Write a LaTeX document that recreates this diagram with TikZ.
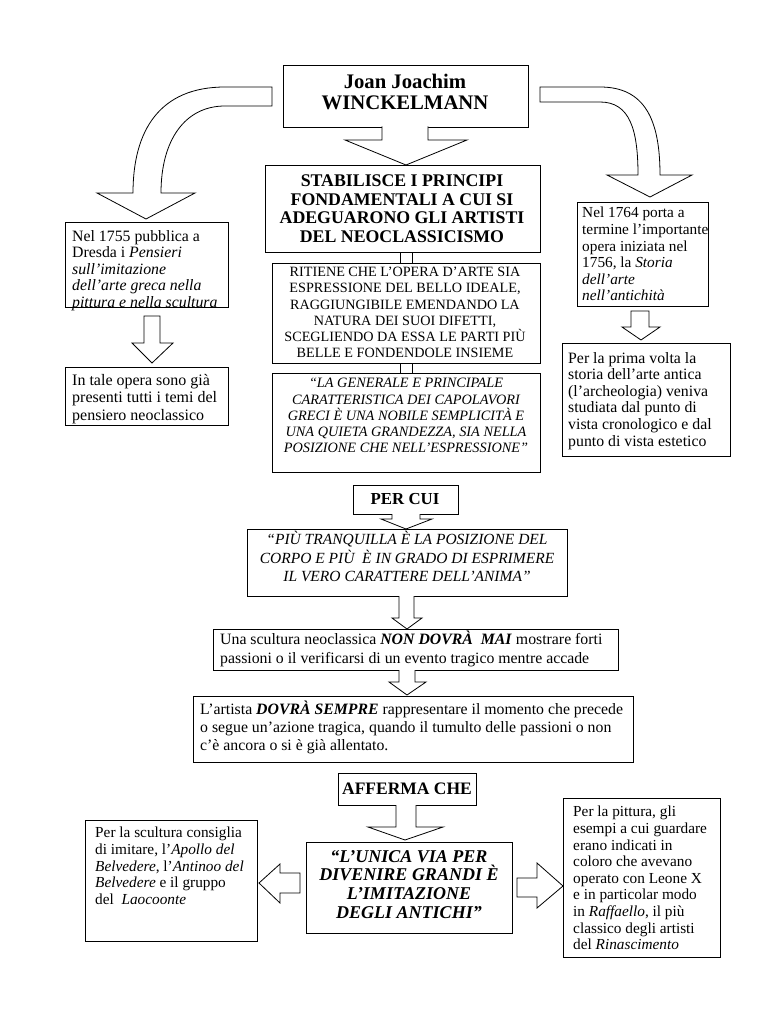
\documentclass[tikz,border=0pt]{standalone}
\usepackage{fontspec}
\setmainfont{Liberation Serif}
\begin{document}
\begin{tikzpicture}[x=1pt,y=-1pt,
  bx/.style={draw, line width=0.9pt, inner sep=0pt, anchor=north west},
  lt/.style={inner sep=0pt, anchor=north west, align=left},
  ct/.style={inner sep=0pt, anchor=north, align=center},
  blk/.style={draw, fill=white, line width=0.8pt, line join=miter},
  fbody/.style={font=\fontsize{15.8}{16.6}\selectfont},
  fside/.style={font=\fontsize{15.3}{16.6}\selectfont},
  fbig/.style={font=\fontsize{20.7}{21}\selectfont\bfseries},
  fhead/.style={font=\fontsize{17.8}{18.5}\selectfont\bfseries}
]
\useasboundingbox[fill=white] (0,0) rectangle (768,1024);

% ---------- boxes ----------
\node[bx, minimum width=245pt, minimum height=62pt] (top) at (283,65) {};
\node[bx, minimum width=275pt, minimum height=87pt] (stab) at (265,165) {};
\node[bx, minimum width=268pt, minimum height=100pt] (rit) at (272,263) {};
\node[bx, minimum width=268pt, minimum height=99pt] (gen) at (272,373) {};
\node[bx, minimum width=163pt, minimum height=85pt] (l1) at (65,222) {};
\node[bx, minimum width=163pt, minimum height=58pt] (l2) at (65,367) {};
\node[bx, minimum width=131pt, minimum height=104pt] (r1) at (577,202) {};
\node[bx, minimum width=168pt, minimum height=113pt] (r2) at (562,343) {};
\node[bx, minimum width=105pt, minimum height=29pt] (percui) at (353,485) {};
\node[bx, minimum width=320pt, minimum height=67pt] (tranq) at (247,529) {};
\node[bx, minimum width=405pt, minimum height=41pt] (scult) at (213,629) {};
\node[bx, minimum width=440pt, minimum height=66pt] (artista) at (193,696) {};
\node[bx, minimum width=138pt, minimum height=32pt] (afferma) at (338,773) {};
\node[bx, minimum width=206pt, minimum height=91pt] (unica) at (306,842) {};
\node[bx, minimum width=172pt, minimum height=121pt] (lb) at (85,820) {};
\node[bx, minimum width=157pt, minimum height=159pt] (rb) at (563,798) {};

% ---------- texts ----------
\node[ct, fbig] (ttop) at (405,74) {Joan Joachim\\WINCKELMANN};
\node[ct, fhead] (tstab) at (402,175) {STABILISCE I PRINCIPI\\FONDAMENTALI A CUI SI\\ADEGUARONO GLI ARTISTI\\DEL NEOCLASSICISMO};
\node[ct, font=\fontsize{14.2}{16.2}\selectfont] (trit) at (405,267) {RITIENE CHE L’OPERA D’ARTE SIA\\ESPRESSIONE DEL BELLO IDEALE,\\RAGGIUNGIBILE EMENDANDO LA\\NATURA DEI SUOI DIFETTI,\\SCEGLIENDO DA ESSA LE PARTI PIÙ\\BELLE E FONDENDOLE INSIEME};
\node[ct, font=\fontsize{14.3}{16.3}\selectfont\itshape] (tgen) at (406,378) {“LA GENERALE E PRINCIPALE\\CARATTERISTICA DEI CAPOLAVORI\\GRECI È UNA NOBILE SEMPLICITÀ E\\UNA QUIETA GRANDEZZA, SIA NELLA\\POSIZIONE CHE NELL’ESPRESSIONE”};
\node[lt, fbody] (tl1) at (72,230) {Nel 1755 pubblica a\\Dresda i \textit{Pensieri}\\\textit{sull’imitazione}\\\textit{dell’arte greca nella}\\\textit{pittura e nella scultura}};
\node[lt, font=\fontsize{16}{17.5}\selectfont] (tl2) at (72,374) {In tale opera sono già\\presenti tutti i temi del\\pensiero neoclassico};
\node[lt, fside] (tr1) at (582,207) {Nel 1764 porta a\\termine l’importante\\opera iniziata nel\\1756, la \textit{Storia}\\\textit{dell’arte}\\\textit{nell’antichità}};
\node[lt, fbody] (tr2) at (568,352) {Per la prima volta la\\storia dell’arte antica\\(l’archeologia) veniva\\studiata dal punto di\\vista cronologico e dal\\punto di vista estetico};
\node[ct, font=\fontsize{16.8}{18}\selectfont\bfseries] (tpercui) at (405,493) {PER CUI};
\node[ct, font=\fontsize{15.5}{18.5}\selectfont\itshape] (ttranq) at (407,531) {“PIÙ TRANQUILLA È LA POSIZIONE DEL\\CORPO E PIÙ~ È IN GRADO DI ESPRIMERE\\IL VERO CARATTERE DELL’ANIMA”};
\node[lt, font=\fontsize{15.8}{19}\selectfont] (tscult) at (220,631) {Una scultura neoclassica \textbf{\textit{NON DOVRÀ~ MAI}} mostrare forti\\passioni o il verificarsi di un evento tragico mentre accade};
\node[lt, font=\fontsize{15.8}{18}\selectfont] (tartista) at (200,701) {L’artista \textbf{\textit{DOVRÀ SEMPRE}} rappresentare il momento che precede\\o segue un’azione tragica, quando il tumulto delle passioni o non\\c’è ancora o si è già allentato.};
\node[ct, font=\fontsize{17.5}{18}\selectfont\bfseries] (tafferma) at (407,783) {AFFERMA CHE};
\node[ct, font=\fontsize{18}{18.7}\selectfont\bfseries\itshape] (tunica) at (409,850) {“L’UNICA VIA PER\\DIVENIRE GRANDI È\\L’IMITAZIONE\\DEGLI ANTICHI”};
\node[lt, fside] (tlb) at (95,827) {Per la scultura consiglia\\di imitare, l’\textit{Apollo del}\\\textit{Belvedere}, l’\textit{Antinoo del}\\\textit{Belvedere} e il gruppo\\del~ \textit{Laocoonte}};
\node[lt, fside] (trb) at (573,806) {Per la pittura, gli\\esempi a cui guardare\\erano indicati in\\coloro che avevano\\operato con Leone X\\e in particolar modo\\in \textit{Raffaello}, il più\\classico degli artisti\\del \textit{Rinascimento}};

% ---------- block arrows ----------
% left curved arrow
\draw[blk] (272,87) -- (225,87) .. controls (160,87) and (133,130) .. (133,193)
  -- (97,193) -- (146,219) -- (195,193) -- (161,193)
  .. controls (161,140) and (185,106) .. (225,106) -- (272,106) -- cycle;
% right curved arrow
\draw[blk] (540,87) -- (600,87) .. controls (645,87) and (660,120) .. (660,175)
  -- (692,175) -- (650,197) -- (607,175) -- (638,175)
  .. controls (638,130) and (630,102) .. (600,102) -- (540,102) -- cycle;
% top -> stab
\fill[white] (382,126) -- (382,140) -- (345,140) -- (406,165) -- (467,140) -- (428,140) -- (428,126) -- cycle;
\draw[line width=0.8pt] (382,126.5) -- (382,140) -- (345,140) -- (406,165) -- (467,140) -- (428,140) -- (428,126.5);
% stab -> rit, rit -> gen (shaft only)
\draw[line width=0.8pt, fill=white] (400,252) rectangle (412,263);
\draw[line width=0.8pt, fill=white] (400,363) rectangle (412,373);
% l1 -> l2
\draw[blk] (144,316) -- (160,316) -- (160,343) -- (173,343) -- (152,363) -- (132,343) -- (144,343) -- cycle;
% r1 -> r2
\draw[blk] (631,311) -- (649,311) -- (649,327) -- (660,327) -- (641,340) -- (622,327) -- (631,327) -- cycle;
% percui -> tranq
\fill[white] (392,513) -- (392,519) -- (381,519) -- (406,529) -- (432,519) -- (420,519) -- (420,513) -- cycle;
\draw[line width=0.8pt] (392,514) -- (392,519) -- (381,519) -- (406,529) -- (432,519) -- (420,519) -- (420,514);
% tranq -> scult
\fill[white] (399,595) -- (399,618) -- (392,618) -- (407,629) -- (422,618) -- (414,618) -- (414,595) -- cycle;
\draw[line width=0.8pt] (399,596) -- (399,618) -- (392,618) -- (407,629) -- (422,618) -- (414,618) -- (414,596);
% scult -> artista
\fill[white] (399,669) -- (399,682) -- (389,682) -- (407,695) -- (426,682) -- (415,682) -- (415,669) -- cycle;
\draw[line width=0.8pt] (399,670) -- (399,682) -- (389,682) -- (407,695) -- (426,682) -- (415,682) -- (415,670);
% afferma -> unica
\fill[white] (396,804) -- (396,827) -- (368,827) -- (405,840) -- (443,827) -- (416,827) -- (416,804) -- cycle;
\draw[line width=0.8pt] (396,805) -- (396,827) -- (368,827) -- (405,840) -- (443,827) -- (416,827) -- (416,805);
% unica -> rb
\draw[blk] (517,878) -- (537,878) -- (537,863) -- (563,886) -- (537,908) -- (537,897) -- (517,897) -- cycle;
% unica -> lb
\draw[blk] (300,873) -- (280,873) -- (280,864) -- (259,883) -- (280,903) -- (280,893) -- (300,893) -- cycle;
\end{tikzpicture}
\end{document}
